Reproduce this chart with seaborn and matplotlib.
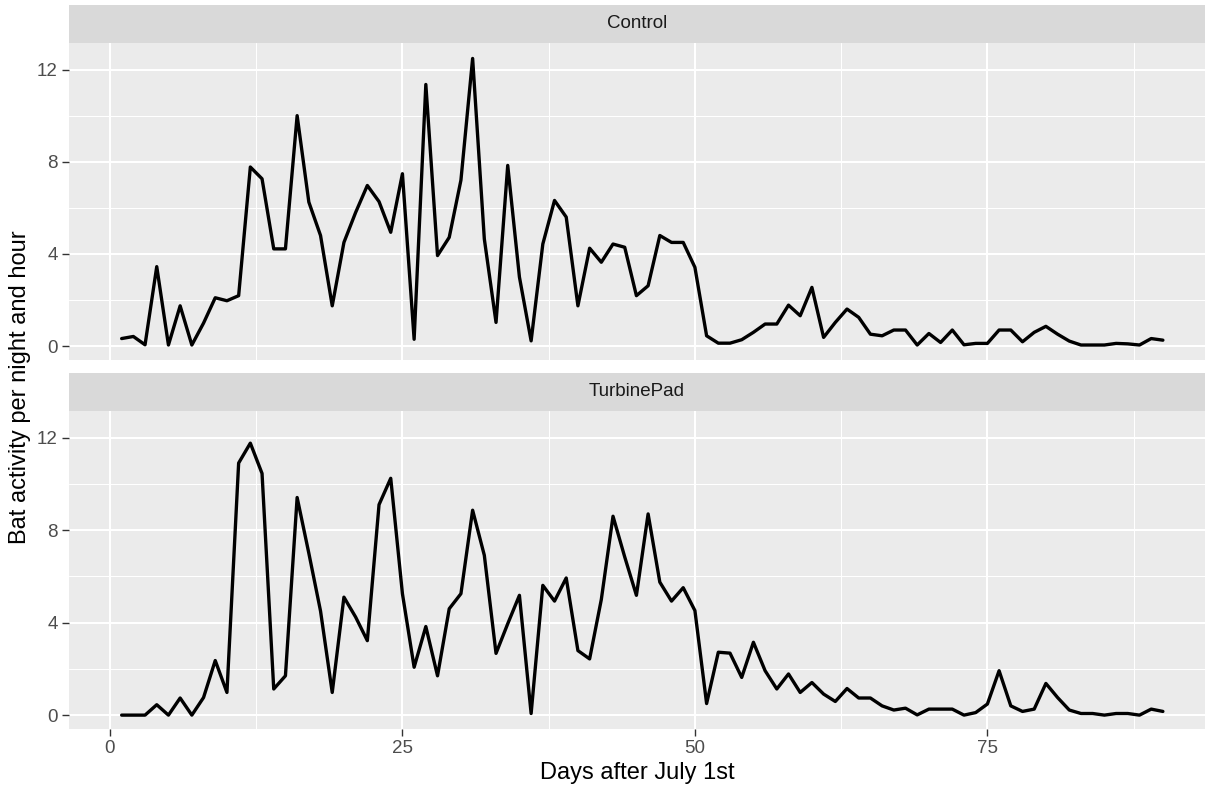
import numpy as np
import pandas as pd
import matplotlib
matplotlib.use("Agg")
import matplotlib.pyplot as plt
from matplotlib.patches import Rectangle
import seaborn as sns

days = list(range(1, 91))
control = [0.33, 0.42, 0.06, 3.45, 0.05, 1.75, 0.05, 1.0, 2.1, 1.97,
           2.19, 7.77, 7.26, 4.22, 4.22, 10.0, 6.25, 4.8, 1.75, 4.5,
           5.8, 6.97, 6.27, 4.94, 7.48, 0.3, 11.35, 3.93, 4.72, 7.2,
           12.48, 4.65, 1.03, 7.84, 3.0, 0.23, 4.43, 6.32, 5.6, 1.75,
           4.25, 3.64, 4.43, 4.29, 2.19, 2.62, 4.8, 4.5, 4.5, 3.42,
           0.45, 0.13, 0.13, 0.28, 0.6, 0.96, 0.96, 1.78, 1.32, 2.55,
           0.38, 1.03, 1.61, 1.25, 0.52, 0.45, 0.7, 0.7, 0.05, 0.55,
           0.16, 0.7, 0.06, 0.12, 0.12, 0.7, 0.7, 0.19, 0.6, 0.86,
           0.52, 0.22, 0.05, 0.05, 0.05, 0.12, 0.1, 0.05, 0.33, 0.26]
turbine = [0.0, 0.0, 0.0, 0.45, 0.0, 0.74, 0.0, 0.76, 2.36, 0.98,
           10.9, 11.76, 10.45, 1.13, 1.7, 9.41, 7.0, 4.5, 0.98, 5.1,
           4.24, 3.22, 9.1, 10.24, 5.25, 2.07, 3.83, 1.7, 4.6, 5.25,
           8.86, 6.91, 2.67, 3.95, 5.18, 0.07, 5.61, 4.93, 5.93, 2.79,
           2.43, 5.0, 8.6, 6.84, 5.18, 8.7, 5.75, 4.93, 5.51, 4.52,
           0.5, 2.72, 2.68, 1.63, 3.15, 1.92, 1.13, 1.78, 0.98, 1.41,
           0.91, 0.59, 1.15, 0.74, 0.74, 0.4, 0.22, 0.3, 0.01, 0.26,
           0.26, 0.26, 0.0, 0.11, 0.48, 1.92, 0.4, 0.16, 0.26, 1.37,
           0.76, 0.22, 0.07, 0.07, 0.0, 0.07, 0.07, 0.0, 0.26, 0.16]
sites = ["Control", "TurbinePad"]
x_ticks = [0, 25, 50, 75]
y_ticks = [0, 4, 8, 12]

df = pd.DataFrame({
    "day": days * 2,
    "activity": control + turbine,
    "site": ["Control"] * len(days) + ["TurbinePad"] * len(days),
})

sns.set_theme(style="darkgrid")
plt.rcParams["font.family"] = ["Liberation Sans", "DejaVu Sans"]

W, H = 1207, 796
fig = plt.figure(figsize=(W / 100, H / 100), dpi=100)
fig.patch.set_facecolor("white")

left = 69 / W
width = (1205 - 69) / W
panels = [(43, 360, 5), (411, 729, 373)]  # top, bottom, strip top (px)

axes = []
for (ptop, pbot, stop), site in zip(panels, sites):
    ax = fig.add_axes([left, 1 - pbot / H, width, (pbot - ptop) / H])
    axes.append(ax)
    sub = df[df["site"] == site]
    sns.lineplot(data=sub, x="day", y="activity", ax=ax, color="black",
                 linewidth=2.4, estimator=None)
    ax.set_facecolor("#EBEBEB")
    ax.set_xlim(-3.5, 93.6)
    ax.set_ylim(-0.6, 13.15)
    ax.set_xticks(x_ticks)
    ax.set_yticks(y_ticks)
    ax.set_xticks([12.5, 37.5, 62.5, 87.5], minor=True)
    ax.set_yticks([2, 6, 10], minor=True)
    ax.grid(which="major", color="white", linewidth=1.5)
    ax.grid(which="minor", color="white", linewidth=0.75)
    ax.set_axisbelow(True)
    for s in ax.spines.values():
        s.set_visible(False)
    ax.tick_params(axis="y", which="major", length=5, width=1.0, color="#333333",
                   labelsize=13.5, labelcolor="#4D4D4D", pad=3, left=True)
    ax.tick_params(axis="x", which="major", length=5, width=1.0, color="#333333",
                   labelsize=13.5, labelcolor="#4D4D4D", pad=3, bottom=True)
    ax.tick_params(which="minor", length=0)
    ax.set_xlabel("")
    ax.set_ylabel("")
    # strip
    fig.patches.append(Rectangle((left, 1 - ptop / H), width, (ptop - stop) / H,
                                 transform=fig.transFigure, facecolor="#D9D9D9",
                                 edgecolor="none", zorder=0))
    fig.text(left + width / 2, 1 - (ptop + stop) / 2 / H, site,
             ha="center", va="center", fontsize=13.5, color="#1A1A1A")

axes[0].tick_params(axis="x", labelbottom=False, bottom=False)

fig.text(left + width / 2, 1 - 773 / H, "Days after July 1st",
         ha="center", va="center", fontsize=17, color="black")
fig.text(20 / W, 1 - 387 / H, "Bat activity per night and hour",
         ha="center", va="center", rotation=90, fontsize=17, color="black")

fig.savefig("out.png", dpi=100)
